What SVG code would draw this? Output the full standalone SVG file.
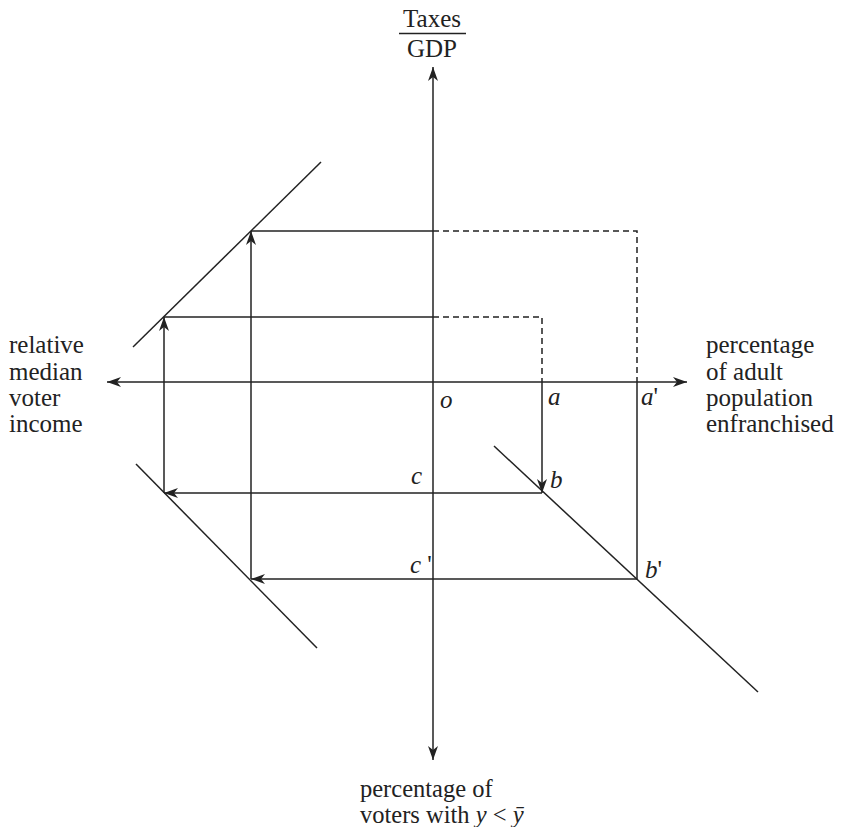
<svg xmlns="http://www.w3.org/2000/svg" width="843" height="827" viewBox="0 0 843 827">
<style>
.ln{stroke:#222;stroke-width:1.5;fill:none}
.ds{stroke:#222;stroke-width:1.5;fill:none;stroke-dasharray:6 4}
.t{font-family:"Liberation Serif","Times New Roman",serif;font-size:25px;fill:#222}
.b{font-family:"Liberation Serif","Times New Roman",serif;font-size:24.5px;fill:#222}
.i{font-family:"Liberation Serif","Times New Roman",serif;font-size:25px;font-style:italic;fill:#222}
</style>
<defs>
<marker id="ah" viewBox="0 0 14 10" refX="14" refY="5" markerWidth="14" markerHeight="10" markerUnits="userSpaceOnUse" orient="auto">
<path d="M0,0 L14,5 L0,10 L4,5 Z" fill="#222"/>
</marker>
</defs>
<rect width="843" height="827" fill="#fff"/>
<g id="connectors">
<line class="ln" x1="433" y1="382" x2="433" y2="67" marker-end="url(#ah)"/>
<line class="ln" x1="433" y1="382" x2="433" y2="760" marker-end="url(#ah)"/>
<line class="ln" x1="433" y1="382" x2="107" y2="382" marker-end="url(#ah)"/>
<line class="ln" x1="433" y1="382" x2="687" y2="382" marker-end="url(#ah)"/>
<line class="ln" x1="133" y1="347" x2="321" y2="162"/>
<line class="ln" x1="136" y1="464" x2="317" y2="648"/>
<line class="ln" x1="494" y1="446" x2="758" y2="692"/>
<line class="ln" x1="251" y1="231" x2="433" y2="231"/>
<line class="ln" x1="164" y1="317" x2="433" y2="317"/>
<path class="ds" d="M433,231 H637 V382"/>
<path class="ds" d="M433,317 H542 V382"/>
<line class="ln" x1="542" y1="382" x2="542" y2="493" marker-end="url(#ah)"/>
<line class="ln" x1="637" y1="382" x2="637" y2="579"/>
<line class="ln" x1="542" y1="493" x2="164" y2="493" marker-end="url(#ah)"/>
<line class="ln" x1="637" y1="579" x2="251" y2="579" marker-end="url(#ah)"/>
<line class="ln" x1="164" y1="493" x2="164" y2="317" marker-end="url(#ah)"/>
<line class="ln" x1="251" y1="579" x2="251" y2="231" marker-end="url(#ah)"/>
</g>
<g id="top-label">
<text class="t" x="432" y="27" text-anchor="middle">Taxes</text>
<line class="ln" x1="399" y1="33.5" x2="466" y2="33.5"/>
<text class="t" x="432" y="57" text-anchor="middle">GDP</text>
</g>
<g id="left-label">
<text class="t" x="9" y="353">relative</text>
<text class="t" x="9" y="380">median</text>
<text class="t" x="9" y="406">voter</text>
<text class="t" x="9" y="432">income</text>
</g>
<g id="right-label">
<text class="t" x="706" y="353">percentage</text>
<text class="t" x="706" y="380">of adult</text>
<text class="t" x="706" y="406">population</text>
<text class="t" x="706" y="432">enfranchised</text>
</g>
<g id="bottom-label">
<text class="b" x="360" y="797">percentage of</text>
<text class="b" x="360" y="823">voters with <tspan font-style="italic">y</tspan> &lt; <tspan font-style="italic">ȳ</tspan></text>
</g>
<g id="point-labels">
<text class="i" x="440" y="408">o</text>
<text class="i" x="548" y="405">a</text>
<text class="i" x="641" y="405">a<tspan font-style="normal">'</tspan></text>
<text class="i" x="550" y="488">b</text>
<text class="i" x="645" y="578">b<tspan font-style="normal">'</tspan></text>
<text class="i" x="411" y="484">c</text>
<text class="i" x="410" y="573">c<tspan font-style="normal"> '</tspan></text>
</g>
</svg>
